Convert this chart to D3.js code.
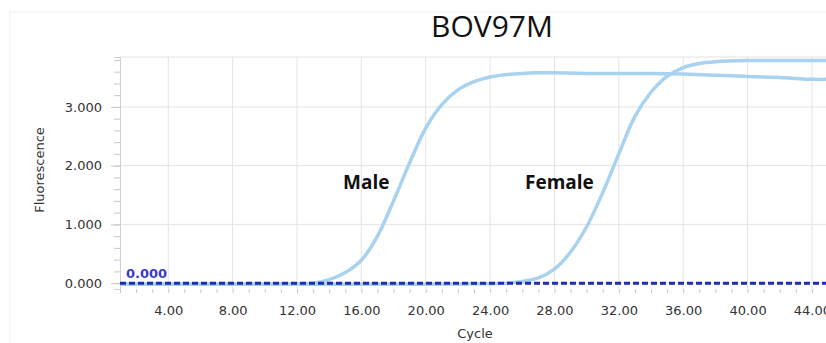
<!DOCTYPE html>
<html>
<head>
<meta charset="utf-8">
<script src="https://cdn.jsdelivr.net/npm/d3@7"></script>
<style>
  body { margin: 0; background: #fff; }
  svg { display: block; }
</style>
</head>
<body>
<svg id="chart" width="826" height="343"></svg>
<script>
// values
var titleText = 'BOV97M';
var xTicks = [4, 8, 12, 16, 20, 24, 28, 32, 36, 40, 44];
var yTicks = [0, 1, 2, 3];

var maleCycles = [1, 6, 10, 12, 13, 14, 15, 16, 17, 18, 19, 20, 21, 22, 23, 24, 25, 26, 27, 28, 30, 32, 34, 36, 38, 40, 42, 44, 45];
var maleValues = [-0.02, -0.02, -0.02, -0.01, 0.0, 0.06, 0.18, 0.39, 0.80, 1.40, 2.05, 2.64, 3.04, 3.29, 3.43, 3.51, 3.55, 3.57, 3.58, 3.58, 3.57, 3.57, 3.57, 3.56, 3.54, 3.52, 3.50, 3.47, 3.47];

var femaleCycles = [1, 10, 20, 24, 25, 26, 27, 28, 29, 30, 31, 32, 33, 34, 35, 36, 37, 38, 40, 42, 44, 45];
var femaleValues = [-0.02, -0.02, -0.02, -0.01, 0.0, 0.03, 0.09, 0.24, 0.53, 0.96, 1.54, 2.20, 2.84, 3.25, 3.52, 3.67, 3.74, 3.77, 3.79, 3.79, 3.79, 3.79];

var threshold = 0.0;

window.onload = function() {
    var svg = d3.select('#chart');
    var left = 120, right = 828, top = 57, bottom = 289;

    var x = d3.scaleLinear([1, 45], [left, right]);
    var y = d3.scaleLinear([-0.1, 3.85], [bottom, top]);

    // faint panel border
    svg.append('rect')
        .attr('x', 10).attr('y', 12)
        .attr('width', 830).attr('height', 340)
        .attr('fill', 'none').attr('stroke', '#efefef');

    svg.append('text')
        .attr('x', 492).attr('y', 37)
        .attr('text-anchor', 'middle')
        .attr('font-family', 'Open Sans')
        .attr('font-size', 30)
        .attr('fill', '#111')
        .text(titleText);

    // grid
    var grid = svg.append('g').attr('stroke', '#e3e3e3').attr('stroke-width', 1);
    xTicks.forEach(function(t) {
        grid.append('line').attr('x1', x(t)).attr('x2', x(t)).attr('y1', top).attr('y2', bottom);
    });
    yTicks.concat([3.85]).forEach(function(t) {
        grid.append('line').attr('x1', left).attr('x2', right).attr('y1', y(t)).attr('y2', y(t));
    });

    // y axis
    var yMinor = d3.range(0, 3.81, 0.2);
    var yAxis = d3.axisLeft(y).tickValues(yMinor).tickSize(6).tickFormat('');
    svg.append('g').attr('transform', 'translate(' + left + ',0)').call(yAxis)
        .call(function(g) { g.selectAll('line').attr('stroke', '#c8c8c8'); g.select('.domain').attr('stroke', '#cfcfcf'); });
    var yMajor = d3.axisLeft(y).tickValues(yTicks).tickSize(9).tickPadding(9)
        .tickFormat(d3.format('.3f'));
    svg.append('g').attr('transform', 'translate(' + left + ',0)').call(yMajor)
        .call(function(g) {
            g.select('.domain').remove();
            g.selectAll('line').attr('stroke', '#c8c8c8');
            g.selectAll('text').attr('font-family', 'DejaVu Sans').attr('font-size', 13).attr('fill', '#333');
        });

    // x axis
    var xMinor = d3.axisBottom(x).tickValues(d3.range(1, 46)).tickSize(4).tickFormat('');
    svg.append('g').attr('transform', 'translate(0,' + bottom + ')').call(xMinor)
        .call(function(g) { g.select('.domain').remove(); g.selectAll('line').attr('stroke', '#c8c8c8'); });
    var xMajor = d3.axisBottom(x).tickValues(xTicks).tickSize(0).tickPadding(17)
        .tickFormat(d3.format('.2f'));
    svg.append('g').attr('transform', 'translate(0,' + bottom + ')').call(xMajor)
        .call(function(g) {
            g.select('.domain').remove();
            g.selectAll('text').attr('font-family', 'DejaVu Sans').attr('font-size', 13).attr('fill', '#333');
        });

    svg.append('text')
        .attr('x', 475).attr('y', 338)
        .attr('text-anchor', 'middle')
        .attr('font-family', 'DejaVu Sans').attr('font-size', 13).attr('fill', '#333')
        .text('Cycle');

    svg.append('text')
        .attr('transform', 'translate(44,170) rotate(-90)')
        .attr('text-anchor', 'middle')
        .attr('font-family', 'DejaVu Sans').attr('font-size', 13).attr('fill', '#333')
        .text('Fluorescence');

    // curves
    var line = d3.line().x(function(d) { return x(d[0]); }).y(function(d) { return y(d[1]); })
        .curve(d3.curveCatmullRom.alpha(0.5));
    [[maleCycles, maleValues], [femaleCycles, femaleValues]].forEach(function(s) {
        svg.append('path')
            .datum(d3.zip(s[0], s[1]))
            .attr('d', line)
            .attr('fill', 'none')
            .attr('stroke', '#a8d2ef')
            .attr('stroke-width', 3.5)
            .attr('stroke-linejoin', 'round');
    });

    // threshold
    svg.append('line')
        .attr('x1', left).attr('x2', right)
        .attr('y1', y(threshold)).attr('y2', y(threshold))
        .attr('stroke', '#1f2db0').attr('stroke-width', 3)
        .attr('stroke-dasharray', '6,3');
    svg.append('text')
        .attr('x', 126).attr('y', y(threshold) - 5)
        .attr('font-family', 'DejaVu Sans').attr('font-size', 13)
        .attr('font-weight', 'bold').attr('fill', '#3b3bc4')
        .text(d3.format('.3f')(threshold));

    // labels
    svg.append('text').attr('x', 343).attr('y', 189)
        .attr('font-family', 'Open Sans').attr('font-weight', 'bold').attr('font-size', 19)
        .attr('fill', '#111').text('Male');
    svg.append('text').attr('x', 525).attr('y', 189)
        .attr('font-family', 'Open Sans').attr('font-weight', 'bold').attr('font-size', 19)
        .attr('fill', '#111').text('Female');
};
</script>
</body>
</html>
